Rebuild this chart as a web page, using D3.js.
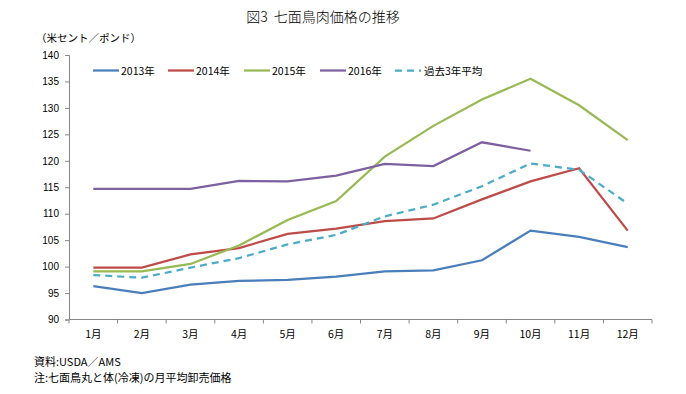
<!DOCTYPE html>
<html>
<head>
<meta charset="utf-8">
<script src="https://cdn.jsdelivr.net/npm/d3@7"></script>
<style>
  body { margin: 0; background: #fff; }
  text { font-family: "Liberation Sans", Arial, "Noto Sans CJK JP", sans-serif; fill: #000; }
  .jp { font-family: "Noto Sans CJK JP", sans-serif; }
</style>
</head>
<body>
<div id="chart"></div>
<script>
var months = ["1月", "2月", "3月", "4月", "5月", "6月", "7月", "8月", "9月", "10月", "11月", "12月"];
var yTicks = [90, 95, 100, 105, 110, 115, 120, 125, 130, 135, 140];

var y2013 = [96.3, 95.0, 96.6, 97.3, 97.5, 98.1, 99.1, 99.3, 101.2, 106.8, 105.6, 103.7];
var y2014 = [99.8, 99.8, 102.3, 103.5, 106.2, 107.2, 108.6, 109.1, 112.7, 116.1, 118.6, 106.8];
var y2015 = [99.1, 99.1, 100.5, 104.0, 108.8, 112.4, 120.8, 126.6, 131.6, 135.5, 130.5, 123.9];
var y2016 = [114.7, 114.7, 114.7, 116.2, 116.1, 117.2, 119.4, 119.0, 123.5, 121.9];
var yAvg = [98.4, 97.9, 99.8, 101.6, 104.2, 106.0, 109.5, 111.7, 115.2, 119.5, 118.3, 111.9];

var seriesNames = ["2013年", "2014年", "2015年", "2016年", "過去3年平均"];
var seriesColors = ["#4A7EBB", "#BE4B48", "#98B954", "#7D60A0", "#4BACC6"];

var svgWidth = 686;
var svgHeight = 394;

var svg = d3.select("#chart")
  .append("svg")
  .attr("width", svgWidth)
  .attr("height", svgHeight);

// plot area
var plotLeft = 69, plotRight = 652, plotTop = 55, plotBottom = 319.5;

var x = d3.scaleBand()
  .domain(months)
  .range([plotLeft, plotRight]);

var y = d3.scaleLinear()
  .domain([90, 140])
  .range([plotBottom, plotTop]);

// title and unit
svg.append("text")
  .attr("class", "jp")
  .attr("x", 323)
  .attr("y", 22)
  .attr("text-anchor", "middle")
  .style("font-size", "14px")
  .style("font-weight", 300)
  .text("図3\u00a0\u00a0七面鳥肉価格の推移");

svg.append("text")
  .attr("class", "jp")
  .attr("x", 36)
  .attr("y", 42)
  .style("font-size", "10.5px")
  .text("（米セント／ポンド）");

// y axis
var yAxis = svg.append("g")
  .attr("transform", `translate(${plotLeft},0)`)
  .call(d3.axisLeft(y).tickValues(yTicks).tickSize(4).tickPadding(6));
yAxis.select(".domain").attr("stroke", "#868686");
yAxis.selectAll(".tick line").attr("stroke", "#868686");
yAxis.selectAll(".tick text")
  .style("font-size", "10px")
  .style("font-family", "'Liberation Sans', Arial, sans-serif");

// x axis: ticks between categories
var xAxis = svg.append("g")
  .attr("transform", `translate(0,${plotBottom})`);
xAxis.append("line")
  .attr("x1", plotLeft).attr("x2", plotRight)
  .attr("y1", 0).attr("y2", 0)
  .attr("stroke", "#868686");
var edges = months.map(m => x(m)).concat([x.range()[1]]);
xAxis.selectAll(".tk")
  .data(edges)
  .enter()
  .append("line")
  .attr("x1", d => d).attr("x2", d => d)
  .attr("y1", 0).attr("y2", 4)
  .attr("stroke", "#868686");
xAxis.selectAll(".lbl")
  .data(months)
  .enter()
  .append("text")
  .attr("class", "jp")
  .attr("x", d => x(d) + x.bandwidth() / 2)
  .attr("y", 18)
  .attr("text-anchor", "middle")
  .style("font-size", "10.5px")
  .text(d => d);

// lines
var line = d3.line()
  .x((d, i) => x(months[i]) + x.bandwidth() / 2)
  .y(d => y(d));

var allSeries = [y2013, y2014, y2015, y2016, yAvg];
allSeries.forEach(function (vals, i) {
  svg.append("path")
    .datum(vals)
    .attr("fill", "none")
    .attr("stroke", seriesColors[i])
    .attr("stroke-width", 2.25)
    .attr("stroke-dasharray", i === 4 ? "7,5" : null)
    .attr("d", line);
});

// legend
var legendX = [93, 168, 244, 320, 395];
var legend = svg.append("g");
seriesNames.forEach(function (name, i) {
  legend.append("line")
    .attr("x1", legendX[i]).attr("x2", legendX[i] + 26)
    .attr("y1", 70.5).attr("y2", 70.5)
    .attr("stroke", seriesColors[i])
    .attr("stroke-width", 2.25)
    .attr("stroke-dasharray", i === 4 ? "7,5" : null);
  legend.append("text")
    .attr("class", "jp")
    .attr("x", legendX[i] + (i === 4 ? 29 : 28))
    .attr("y", 74.5)
    .style("font-size", "10.5px")
    .text(name);
});

// notes
svg.append("text")
  .attr("class", "jp")
  .attr("x", 34)
  .attr("y", 366)
  .style("font-size", "11px")
  .text("資料:USDA／AMS");
svg.append("text")
  .attr("class", "jp")
  .attr("x", 34)
  .attr("y", 382)
  .style("font-size", "11px")
  .text("注:七面鳥丸と体(冷凍)の月平均卸売価格");
</script>
</body>
</html>
